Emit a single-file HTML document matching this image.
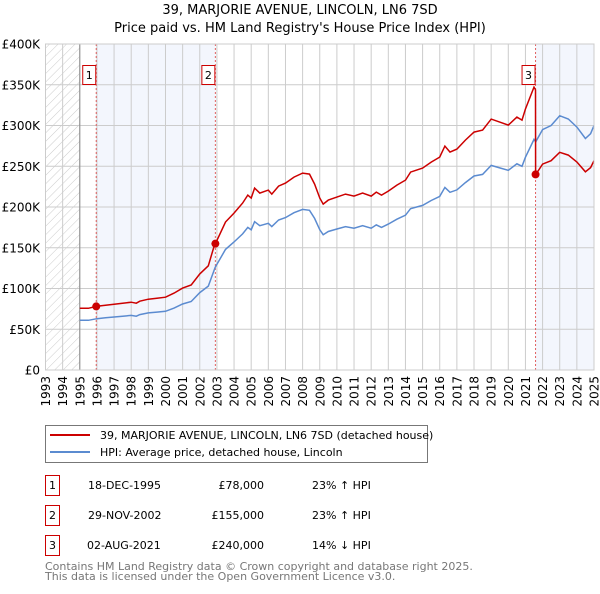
<!DOCTYPE html>
<html><head><meta charset="utf-8"><style>
body{margin:0;background:#fff;font-family:"DejaVu Sans","Liberation Sans",sans-serif;}
svg text{font-family:"DejaVu Sans","Liberation Sans",sans-serif;}
</style></head><body>
<svg width="600" height="590" xmlns="http://www.w3.org/2000/svg">
<defs><pattern id="hatch" width="6" height="6" patternUnits="userSpaceOnUse" patternTransform="rotate(45)"><line x1="0" y1="0" x2="0" y2="6" stroke="#ccc" stroke-width="1"/></pattern></defs>
<text x="300" y="14" text-anchor="middle" font-size="13">39, MARJORIE AVENUE, LINCOLN, LN6 7SD</text>
<text x="300" y="32" text-anchor="middle" font-size="13">Price paid vs. HM Land Registry's House Price Index (HPI)</text>
<g id="plot"></g>
<g>
<rect x="45.5" y="425.5" width="382" height="37" fill="#fff" stroke="#777"/>
<line x1="50" y1="435" x2="90" y2="435" stroke="#cc0000" stroke-width="2"/>
<text x="100" y="439" font-size="11">39, MARJORIE AVENUE, LINCOLN, LN6 7SD (detached house)</text>
<line x1="50" y1="452" x2="90" y2="452" stroke="#5b8bd0" stroke-width="2"/>
<text x="100" y="456" font-size="11">HPI: Average price, detached house, Lincoln</text>
</g>
<g font-size="11">
<rect x="45.5" y="475.5" width="14" height="20" fill="none" stroke="#c00"/><text x="52.5" y="489" text-anchor="middle">1</text>
<text x="88" y="489">18-DEC-1995</text><text x="264" y="489" text-anchor="end">£78,000</text><text x="312" y="489">23% ↑ HPI</text>
<rect x="45.5" y="505.5" width="14" height="20" fill="none" stroke="#c00"/><text x="52.5" y="519" text-anchor="middle">2</text>
<text x="88" y="519">29-NOV-2002</text><text x="264" y="519" text-anchor="end">£155,000</text><text x="312" y="519">23% ↑ HPI</text>
<rect x="45.5" y="535.5" width="14" height="20" fill="none" stroke="#c00"/><text x="52.5" y="549" text-anchor="middle">3</text>
<text x="87" y="549">02-AUG-2021</text><text x="264" y="549" text-anchor="end">£240,000</text><text x="312" y="549">14% ↓ HPI</text>
</g>
<text x="45" y="570" font-size="11" fill="#777">Contains HM Land Registry data © Crown copyright and database right 2025.</text>
<text x="45" y="580" font-size="11" fill="#777">This data is licensed under the Open Government Licence v3.0.</text>
</svg>
<script>
const hpiYears=[1995,1995.5,1996,1996.5,1997,1997.5,1998,1998.3,1998.5,1999,1999.5,2000,2000.5,2001,2001.5,2002,2002.5,2002.9,2003.5,2004,2004.5,2004.8,2005,2005.2,2005.5,2006,2006.2,2006.6,2007,2007.5,2008,2008.4,2008.7,2009,2009.2,2009.5,2010,2010.5,2011,2011.5,2012,2012.3,2012.6,2013,2013.5,2014,2014.3,2015,2015.5,2016,2016.3,2016.6,2017,2017.5,2018,2018.5,2019,2019.5,2020,2020.5,2020.8,2021,2021.5,2021.6,2022,2022.5,2023,2023.5,2024,2024.5,2024.8,2025];
const hpiValues=[61,61,63,64,65,66,67,66,68,70,71,72,76,81,84,95,103,126,148,157,167,175,172,182,177,180,176,184,187,193,197,196,186,172,166,170,173,176,174,177,174,178,175,179,185,190,198,202,208,213,224,218,221,230,238,240,251,248,245,253,250,261,283,280,295,300,312,308,298,284,290,300];
const saleYears=[1995.96,2002.91,2021.59];
const salePrices=[78,155,240];
const saleLabels=["1","2","3"];
const yTicks=[0,50,100,150,200,250,300,350,400];
const yTickLabels=["£0","£50K","£100K","£150K","£200K","£250K","£300K","£350K","£400K"];
const xTicks=[1993,1994,1995,1996,1997,1998,1999,2000,2001,2002,2003,2004,2005,2006,2007,2008,2009,2010,2011,2012,2013,2014,2015,2016,2017,2018,2019,2020,2021,2022,2023,2024,2025];

const X0=45.5,X1=594,Y0=370,Y1=44;
const xs=y=>X0+(y-1993)/(2025-1993)*(X1-X0);
const ys=v=>Y0-v/400*(Y0-Y1);
const NS="http://www.w3.org/2000/svg";
const g=document.getElementById('plot');
function mk(t,a,p){const e=document.createElementNS(NS,t);for(const k in a)e.setAttribute(k,a[k]);(p||g).appendChild(e);return e;}
function hpiAt(t){for(let i=0;i<hpiYears.length-1;i++){if(t<=hpiYears[i+1]){const f=(t-hpiYears[i])/(hpiYears[i+1]-hpiYears[i]);return hpiValues[i]+f*(hpiValues[i+1]-hpiValues[i]);}}return hpiValues[hpiValues.length-1];}

let e=mk('rect',{x:X0,y:Y1,width:X1-X0,height:Y0-Y1,fill:'#fff'});

e=mk('rect',{x:X0,y:Y1,width:xs(1995)-X0,height:Y0-Y1,fill:'url(#hatch)'});

e=mk('rect',{x:xs(saleYears[0]),y:Y1,width:xs(saleYears[1])-xs(saleYears[0]),height:Y0-Y1,fill:'#f3f6fd'});

e=mk('rect',{x:xs(saleYears[2]),y:Y1,width:X1-xs(saleYears[2]),height:Y0-Y1,fill:'#f3f6fd'});

xTicks.forEach(t=>{const l=mk('line',{x1:xs(t),x2:xs(t),y1:Y1,y2:Y0,stroke:'#ccc'});

const tx=mk('text',{x:0,y:0,'font-size':12,'text-anchor':'end',transform:`translate(${xs(t)+4.5},376) rotate(-90)`});tx.textContent=t;
});
yTicks.forEach((t,i)=>{const l=mk('line',{x1:X0,x2:X1,y1:ys(t),y2:ys(t),stroke:'#ccc'});

const tx=mk('text',{x:40,y:ys(t)+4.5,'font-size':12,'text-anchor':'end'});tx.textContent=yTickLabels[i];
});
e=mk('line',{x1:xs(1995),x2:xs(1995),y1:Y1,y2:Y0,stroke:'#888'});

saleYears.forEach(s=>{const l=mk('line',{x1:xs(s),x2:xs(s),y1:Y1,y2:Y0,stroke:'#e06060','stroke-dasharray':'2,2'});
});
let d=hpiYears.map((t,i)=>(i?'L':'M')+xs(t).toFixed(1)+','+ys(hpiValues[i]).toFixed(1)).join('');
e=mk('path',{d:d,fill:'none',stroke:'#5b8bd0','stroke-width':1.5});

let pts=[];
hpiYears.forEach((t,i)=>{let k=-1;for(let j=0;j<saleYears.length;j++)if(t>=saleYears[j])k=j;
const kk=k<0?0:k;pts.push([t,hpiValues[i]*salePrices[kk]/hpiAt(saleYears[kk])]);
});
saleYears.forEach((s,j)=>pts.push([s,salePrices[j]]));
pts.push([saleYears[2]-0.001,salePrices[1]*hpiAt(saleYears[2])/hpiAt(saleYears[1])]);
pts.sort((a,b)=>a[0]-b[0]);
d=pts.map((p,i)=>(i?'L':'M')+xs(p[0]).toFixed(1)+','+ys(p[1]).toFixed(1)).join('');
e=mk('path',{d:d,fill:'none',stroke:'#cc0000','stroke-width':1.5});

saleYears.forEach((s,j)=>{const c=mk('circle',{cx:xs(s),cy:ys(salePrices[j]),r:4,fill:'#cc0000'});

const r=mk('rect',{x:xs(s)-13.5,y:65.5,width:13,height:19,fill:'#fff',stroke:'#c00'});

const tx=mk('text',{x:xs(s)-7,y:79,'font-size':11,'text-anchor':'middle'});tx.textContent=saleLabels[j];
});
e=mk('rect',{x:X0,y:Y1,width:X1-X0,height:Y0-Y1,fill:'none',stroke:'#ccc'});

</script>
</body></html>
